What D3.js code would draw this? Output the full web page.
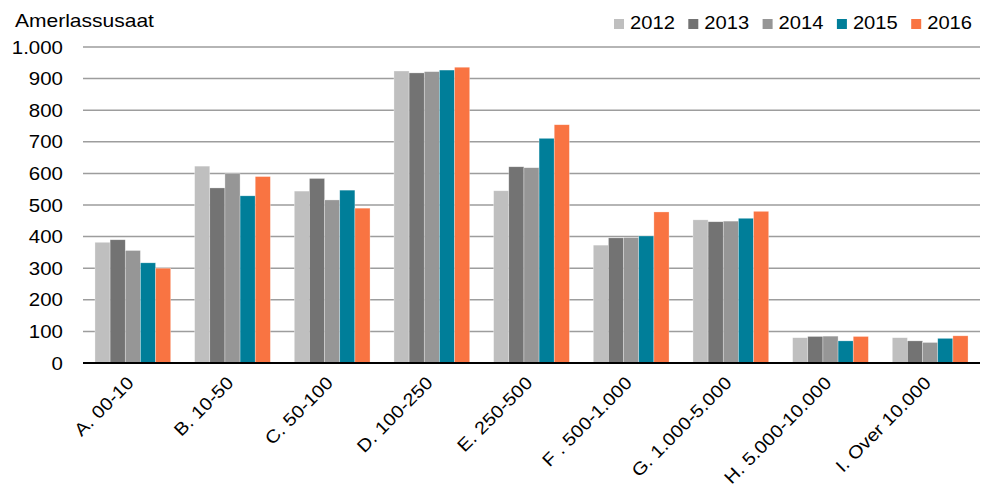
<!DOCTYPE html>
<html>
<head>
<meta charset="utf-8">
<script src="https://cdn.jsdelivr.net/npm/d3@7"></script>
<style>
  body { margin: 0; background: #fff; }
  text { font-family: "Liberation Sans", Arial, sans-serif; fill: #000; }
</style>
</head>
<body>
<svg id="chart"></svg>
<script>
// Data
const categories = ["A. 00-10", "B. 10-50", "C. 50-100", "D. 100-250", "E. 250-500",
                    "F . 500-1.000", "G. 1.000-5.000", "H. 5.000-10.000", "I. Over 10.000"];
const years = ["2012", "2013", "2014", "2015", "2016"];
const values2012 = [382, 623, 544, 924, 545, 373, 453, 80, 80];
const values2013 = [390, 554, 584, 918, 621, 396, 447, 84, 70];
const values2014 = [356, 599, 516, 922, 618, 397, 449, 85, 65];
const values2015 = [317, 529, 547, 927, 711, 402, 458, 70, 78];
const values2016 = [300, 590, 490, 936, 754, 478, 480, 84, 86];
const yTicks = [0, 100, 200, 300, 400, 500, 600, 700, 800, 900, 1000];
const colors = ["#BFBFBF", "#737373", "#969696", "#007E99", "#F97442"];

const series = [values2012, values2013, values2014, values2015, values2016];

const width = 991, height = 490;
const margin = { top: 47, right: 11, bottom: 127, left: 83 };

const svg = d3.select("#chart").attr("width", width).attr("height", height);

// the original text is a bit wider than Arial, stretch it horizontally
const stretch = (sel, k) => sel.each(function () {
  const len = this.getComputedTextLength();
  d3.select(this).attr("textLength", len * k).attr("lengthAdjust", "spacingAndGlyphs");
});

const x = d3.scaleBand()
  .domain(categories)
  .range([margin.left, width - margin.right])
  .paddingInner(0.24)
  .paddingOuter(0.12);

const xInner = d3.scaleBand()
  .domain(years)
  .range([0, x.bandwidth()]);

const y = d3.scaleLinear()
  .domain([0, 1000])
  .range([height - margin.bottom, margin.top]);

const fmt = d => d3.format(",")(d).replace(/,/g, ".");

// gridlines
svg.append("g")
  .selectAll("line")
  .data(yTicks.filter(d => d > 0))
  .join("line")
  .attr("x1", margin.left)
  .attr("x2", width - margin.right)
  .attr("y1", d => y(d))
  .attr("y2", d => y(d))
  .attr("stroke", "#9d9d9d")
  .attr("stroke-width", 1.5);

// y labels
svg.append("g")
  .selectAll("text")
  .data(yTicks)
  .join("text")
  .attr("x", 63)
  .attr("y", d => y(d))
  .attr("dy", "0.36em")
  .attr("text-anchor", "end")
  .attr("font-size", 18.6)
  .text(d => fmt(d))
  .call(stretch, 1.1);

// bars
const groups = svg.append("g")
  .selectAll("g")
  .data(categories)
  .join("g")
  .attr("transform", d => `translate(${x(d)},0)`);

groups.selectAll("rect")
  .data((c, i) => years.map((yr, j) => ({ yr, j, v: series[j][i] })))
  .join("rect")
  .attr("x", d => xInner(d.yr))
  .attr("y", d => y(d.v))
  .attr("width", xInner.bandwidth())
  .attr("height", d => y(0) - y(d.v))
  .attr("fill", d => colors[d.j])
  .attr("stroke", "#fff")
  .attr("stroke-opacity", 0.5)
  .attr("stroke-width", 0.6);

// baseline
svg.append("line")
  .attr("x1", margin.left)
  .attr("x2", width - margin.right)
  .attr("y1", y(0))
  .attr("y2", y(0))
  .attr("stroke", "#000")
  .attr("stroke-width", 2.2);

// x labels
svg.append("g")
  .selectAll("text")
  .data(categories)
  .join("text")
  .attr("transform", d => `translate(${x(d) + x.bandwidth() / 2 + 2},${y(0) + 21}) rotate(-45)`)
  .attr("text-anchor", "end")
  .attr("font-size", 17.8)
  .text(d => d)
  .call(stretch, 1.12);

// axis title
svg.append("text")
  .attr("x", 15)
  .attr("y", 27)
  .attr("font-size", 18.6)
  .text("Amerlassusaat")
  .call(stretch, 1.13);

// legend
const legend = svg.append("g")
  .selectAll("g")
  .data(years)
  .join("g")
  .attr("transform", (d, i) => `translate(${614 + i * 74.3},19)`);

legend.append("rect")
  .attr("width", 10)
  .attr("height", 10)
  .attr("fill", (d, i) => colors[i]);

legend.append("text")
  .attr("x", 16)
  .attr("y", 10)
  .attr("font-size", 18)
  .text(d => d)
  .call(stretch, 1.12);
</script>
</body>
</html>
